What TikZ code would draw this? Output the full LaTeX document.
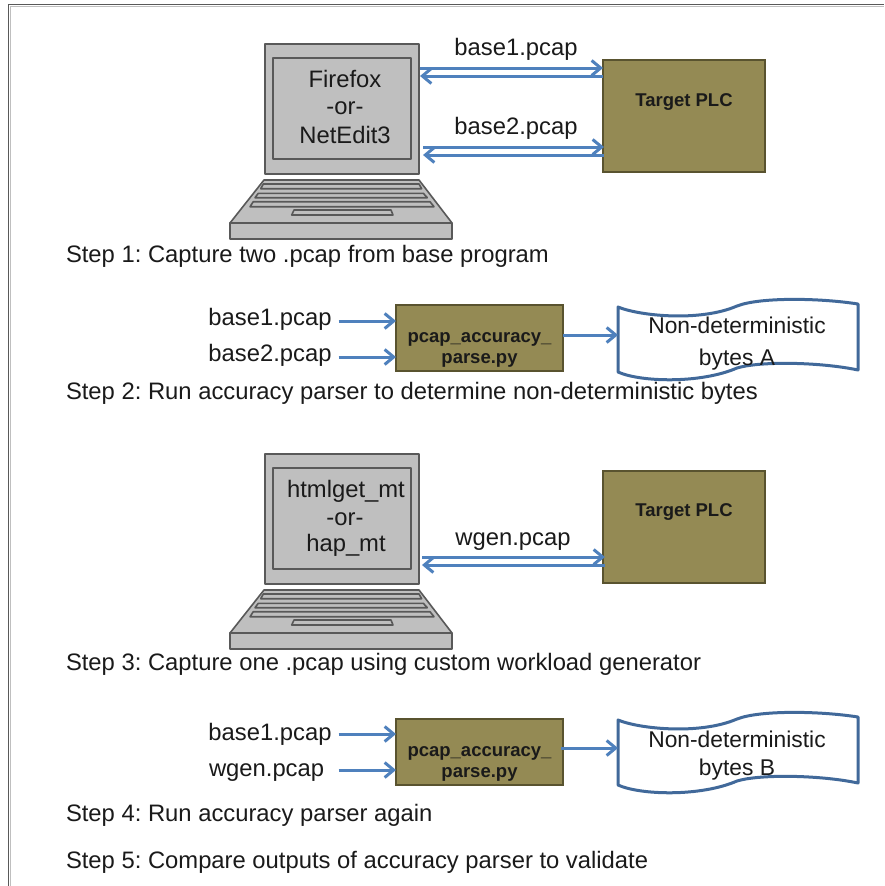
\documentclass[tikz,border=0pt]{standalone}
\usepackage{fontspec}
\setmainfont{Liberation Sans}
\usetikzlibrary{arrows.meta}
\definecolor{flowblue}{HTML}{4F81BD}
\definecolor{docblue}{HTML}{41699A}
\definecolor{olivebox}{HTML}{948A54}
\definecolor{olivedark}{HTML}{59532F}
\definecolor{lapgrey}{HTML}{BFBFBF}
\definecolor{lapline}{HTML}{595959}
\definecolor{inkc}{HTML}{1A1A1A}
\tikzset{
  x=1pt,y=-1pt,
  lapshape/.style={draw=lapline,fill=lapgrey,line width=1.6pt,line join=round},
  screenbox/.style={lapshape,rectangle,minimum width=154pt,minimum height=130pt,outer sep=0pt,inner sep=0pt},
  plcbox/.style={draw=olivedark,fill=olivebox,line width=2.6pt,rectangle,minimum width=162pt,minimum height=112pt,outer sep=0pt,inner sep=0pt},
  parsebox/.style={draw=olivedark,fill=olivebox,line width=2.6pt,rectangle,minimum width=167pt,minimum height=66pt,outer sep=0pt,inner sep=0pt},
  flow/.style={draw=flowblue,line width=3pt,-{Straight Barb[length=9pt,width=15pt,line width=3pt]}},
  txt/.style={text=inkc,font=\fontsize{23.8}{28}\selectfont,inner sep=0pt,outer sep=0pt},
  steptxt/.style={txt,anchor=base west},
  boldtxt/.style={text=inkc,font=\fontsize{18.5}{22}\bfseries\selectfont,inner sep=0pt,outer sep=0pt},
  plctxt/.style={boldtxt,font=\fontsize{18.5}{22}\bfseries\selectfont},
  doctxt/.style={txt,font=\fontsize{22.8}{27}\selectfont},
  docshape/.style={draw=docblue,fill=white,line width=3pt,line join=round},
}
\newcommand{\laptop}[1]{%
  \node[screenbox] (#1) at (342,109) {};
  \draw[lapshape] (265,58) ++(8,0) rectangle (411,159);
  \draw[lapshape] (264,180) -- (419,180) -- (452,223) -- (230,223) -- cycle;
  \draw[lapshape] (230,223) rectangle (452,239);
  \draw[lapshape] (263.3,184) -- (419,184) -- (421.7,188.7) -- (260.7,188.7) -- cycle;
  \draw[lapshape] (258.3,193.3) -- (423.3,193.3) -- (427.3,197.7) -- (255,197.7) -- cycle;
  \draw[lapshape] (253.3,201.7) -- (430,201.7) -- (434,206.7) -- (250,206.7) -- cycle;
  \draw[lapshape] (294,210) -- (391,210) -- (393,215) -- (291.7,215) -- cycle;
}
\newcommand{\docwave}{%
  \draw[docshape] (618,307) .. controls (640,316) and (700,322) .. (737,306)
    .. controls (760,297) and (820,298) .. (858,304) -- (858,370)
    .. controls (820,362) and (760,361) .. (737,368)
    .. controls (700,384) and (640,382) .. (618,372) -- cycle;
}
\begin{document}
\frenchspacing
\begin{tikzpicture}
\useasboundingbox (0,0) rectangle (884,886);
\fill[white] (0,0) rectangle (884,886);
% frame
\draw[lapgrey,line width=1pt] (10,886) -- (10,6) -- (884,6);
\draw[lapline,line width=1.5pt] (8.5,886) -- (8.5,4.5) -- (884,4.5);

% Step 1
\begin{scope}\laptop{lapa}\end{scope}
\node[plcbox] (plca) at (684,116) {};
\node[plctxt] (plcat) at (684,102) {Target PLC};
\node[txt] (sa1) at (345,79) {Firefox};
\node[txt] (sa2) at (345,108.5) {-or-};
\node[txt] (sa3) at (345,134.5) {NetEdit3};
\node[txt] (ba1) at (516,49) {base1.pcap};
\node[txt] (ba2) at (516,128.5) {base2.pcap};
\draw[flow] ([xshift=1pt]lapa.east |- 0,68) -- (plca.west |- 0,68);
\draw[flow] (plca.west |- 0,76) -- ([xshift=1pt]lapa.east |- 0,76);
\draw[flow] ([xshift=4pt]lapa.east |- 0,147) -- ([xshift=1pt]plca.west |- 0,147);
\draw[flow] ([xshift=1pt]plca.west |- 0,155) -- ([xshift=4pt]lapa.east |- 0,155);
\node[steptxt] (st1) at (66,262) {Step 1: Capture two .pcap from base program};

% Step 2
\node[parsebox] (pa) at (479.5,338) {};
\node[boldtxt] (pat1) at (479.5,339.5) {pcap\_accuracy\_};
\node[boldtxt] (pat2) at (479.5,360.5) {parse.py};
\node[txt] (ia1) at (270,319.5) {base1.pcap};
\node[txt] (ia2) at (270,355.5) {base2.pcap};
\draw[flow] (ia1.east |- 0,321) ++(7,0) -- (pa.west |- 0,321);
\draw[flow] (ia2.east |- 0,357) ++(7,0) -- (pa.west |- 0,357);
\docwave
\coordinate (doca) at (618,335);
\draw[flow] (pa.east |- doca) -- (doca);
\node[doctxt] (da1) at (737,325) {Non-deterministic};
\node[doctxt] (da2) at (737,360) {bytes A};
\node[steptxt] (st2) at (66,399) {Step 2: Run accuracy parser to determine non-deterministic bytes};

% Step 3
\begin{scope}[shift={(0,410)}]\laptop{lapb}\end{scope}
\node[plcbox] (plcb) at (684,527) {};
\node[plctxt] (plcbt) at (684,512) {Target PLC};
\node[txt] (sb1) at (346,491.5) {htmlget\_mt};
\node[txt] (sb2) at (345,519.5) {-or-};
\node[txt] (sb3) at (346,545.5) {hap\_mt};
\node[txt] (bb1) at (513,541.5) {wgen.pcap};
\draw[flow] ([xshift=3pt]lapb.east |- 0,557) -- ([xshift=2pt]plcb.west |- 0,557);
\draw[flow] ([xshift=2pt]plcb.west |- 0,565) -- ([xshift=3pt]lapb.east |- 0,565);
\node[steptxt] (st3) at (66,670) {Step 3: Capture one .pcap using custom workload generator};

% Step 4
\node[parsebox] (pb) at (479.5,752) {};
\node[boldtxt] (pbt1) at (479.5,753) {pcap\_accuracy\_};
\node[boldtxt] (pbt2) at (479.5,774) {parse.py};
\node[txt] (ib1) at (270,734) {base1.pcap};
\node[txt,anchor=base west] (ib2) at (209,776) {wgen.pcap};
\draw[flow] (ib1.east |- 0,734) ++(7,0) -- (pb.west |- 0,734);
\draw[flow] (ib1.east |- 0,770) ++(7,0) -- (pb.west |- 0,770);
\begin{scope}[shift={(0,413)}]\docwave\end{scope}
\coordinate (docb) at (618,748);
\draw[flow] ([xshift=-2pt]pb.east |- docb) -- (docb);
\node[doctxt] (db1) at (737,739) {Non-deterministic};
\node[doctxt] (db2) at (737,770) {bytes B};
\node[steptxt] (st4) at (66,821) {Step 4: Run accuracy parser again};
\node[steptxt] (st5) at (66,868) {Step 5: Compare outputs of accuracy parser to validate};
\end{tikzpicture}
\end{document}
